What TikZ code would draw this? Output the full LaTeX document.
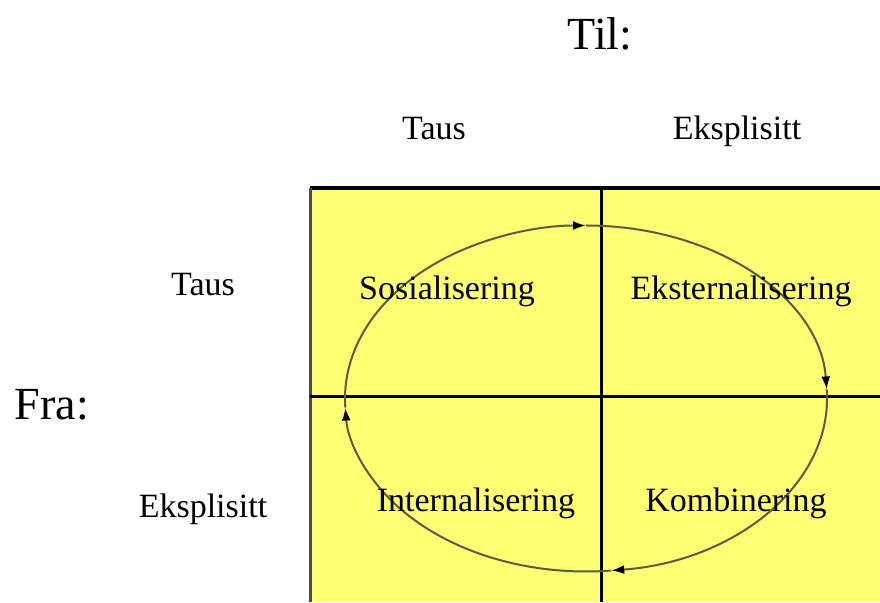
\documentclass[tikz,border=0pt]{standalone}
\usepackage{fontspec}
\setmainfont{Liberation Serif}
\usetikzlibrary{arrows.meta}
\definecolor{quadyellow}{RGB}{255,255,115}
\definecolor{cyclecol}{RGB}{95,90,65}
\tikzset{
  lbl/.style={inner sep=0pt, anchor=base, font=\fontsize{34}{40}\selectfont},
  big/.style={inner sep=0pt, anchor=base, font=\fontsize{46}{52}\selectfont},
  cyc/.style={draw=cyclecol, line width=2pt, -{Latex[length=13pt,width=9pt,color=black]}},
}
\begin{document}
\begin{tikzpicture}[x=1pt,y=1pt]
\useasboundingbox (0,0) rectangle (880,602);
\fill[white] (0,0) rectangle (880,602);
% box
\fill[quadyellow] (310,0) rectangle (880,414);
\coordinate (tl) at (310,414);
\coordinate (tr) at (880,414);
\coordinate (bl) at (310,0);
\coordinate (vt) at (601,414);
\coordinate (vb) at (601,0);
\coordinate (hl) at (310,205);
\coordinate (hr) at (880,205);
\draw[line width=3.5pt] (tl) -- (tr);
\draw[line width=3pt, draw=black!70] (tl) -- (bl);
\draw[line width=3pt] (vt) -- (vb);
\draw[line width=3pt] (hl) -- (hr);
% cycle
\coordinate (c) at (586,203.5);
\draw[cyc] (c) ++(183:241 and 173) arc[start angle=183, end angle=90, x radius=241, y radius=173];
\draw[cyc] (c) ++(90:241 and 173) arc[start angle=90, end angle=3, x radius=241, y radius=173];
\draw[cyc] (c) ++(3:241 and 173) arc[start angle=3, end angle=-84, x radius=241, y radius=173];
\draw[cyc] (c) ++(-84:241 and 173) arc[start angle=-84, end angle=-177, x radius=241, y radius=173];
% labels
\node[big] (til) at (600,552) {Til:};
\node[big] (fra) at (52,182) {Fra:};
\node[lbl] (ttaus) at (434,462) {Taus};
\node[lbl] (teks) at (737,462) {Eksplisitt};
\node[lbl] (ltaus) at (203,306) {Taus};
\node[lbl] (leks) at (203,84) {Eksplisitt};
\node[lbl] (sos) at (447,302) {Sosialisering};
\node[lbl] (ekst) at (741,302) {Eksternalisering};
\node[lbl] (int) at (476,90) {Internalisering};
\node[lbl] (komb) at (736,90) {Kombinering};
\end{tikzpicture}
\end{document}
